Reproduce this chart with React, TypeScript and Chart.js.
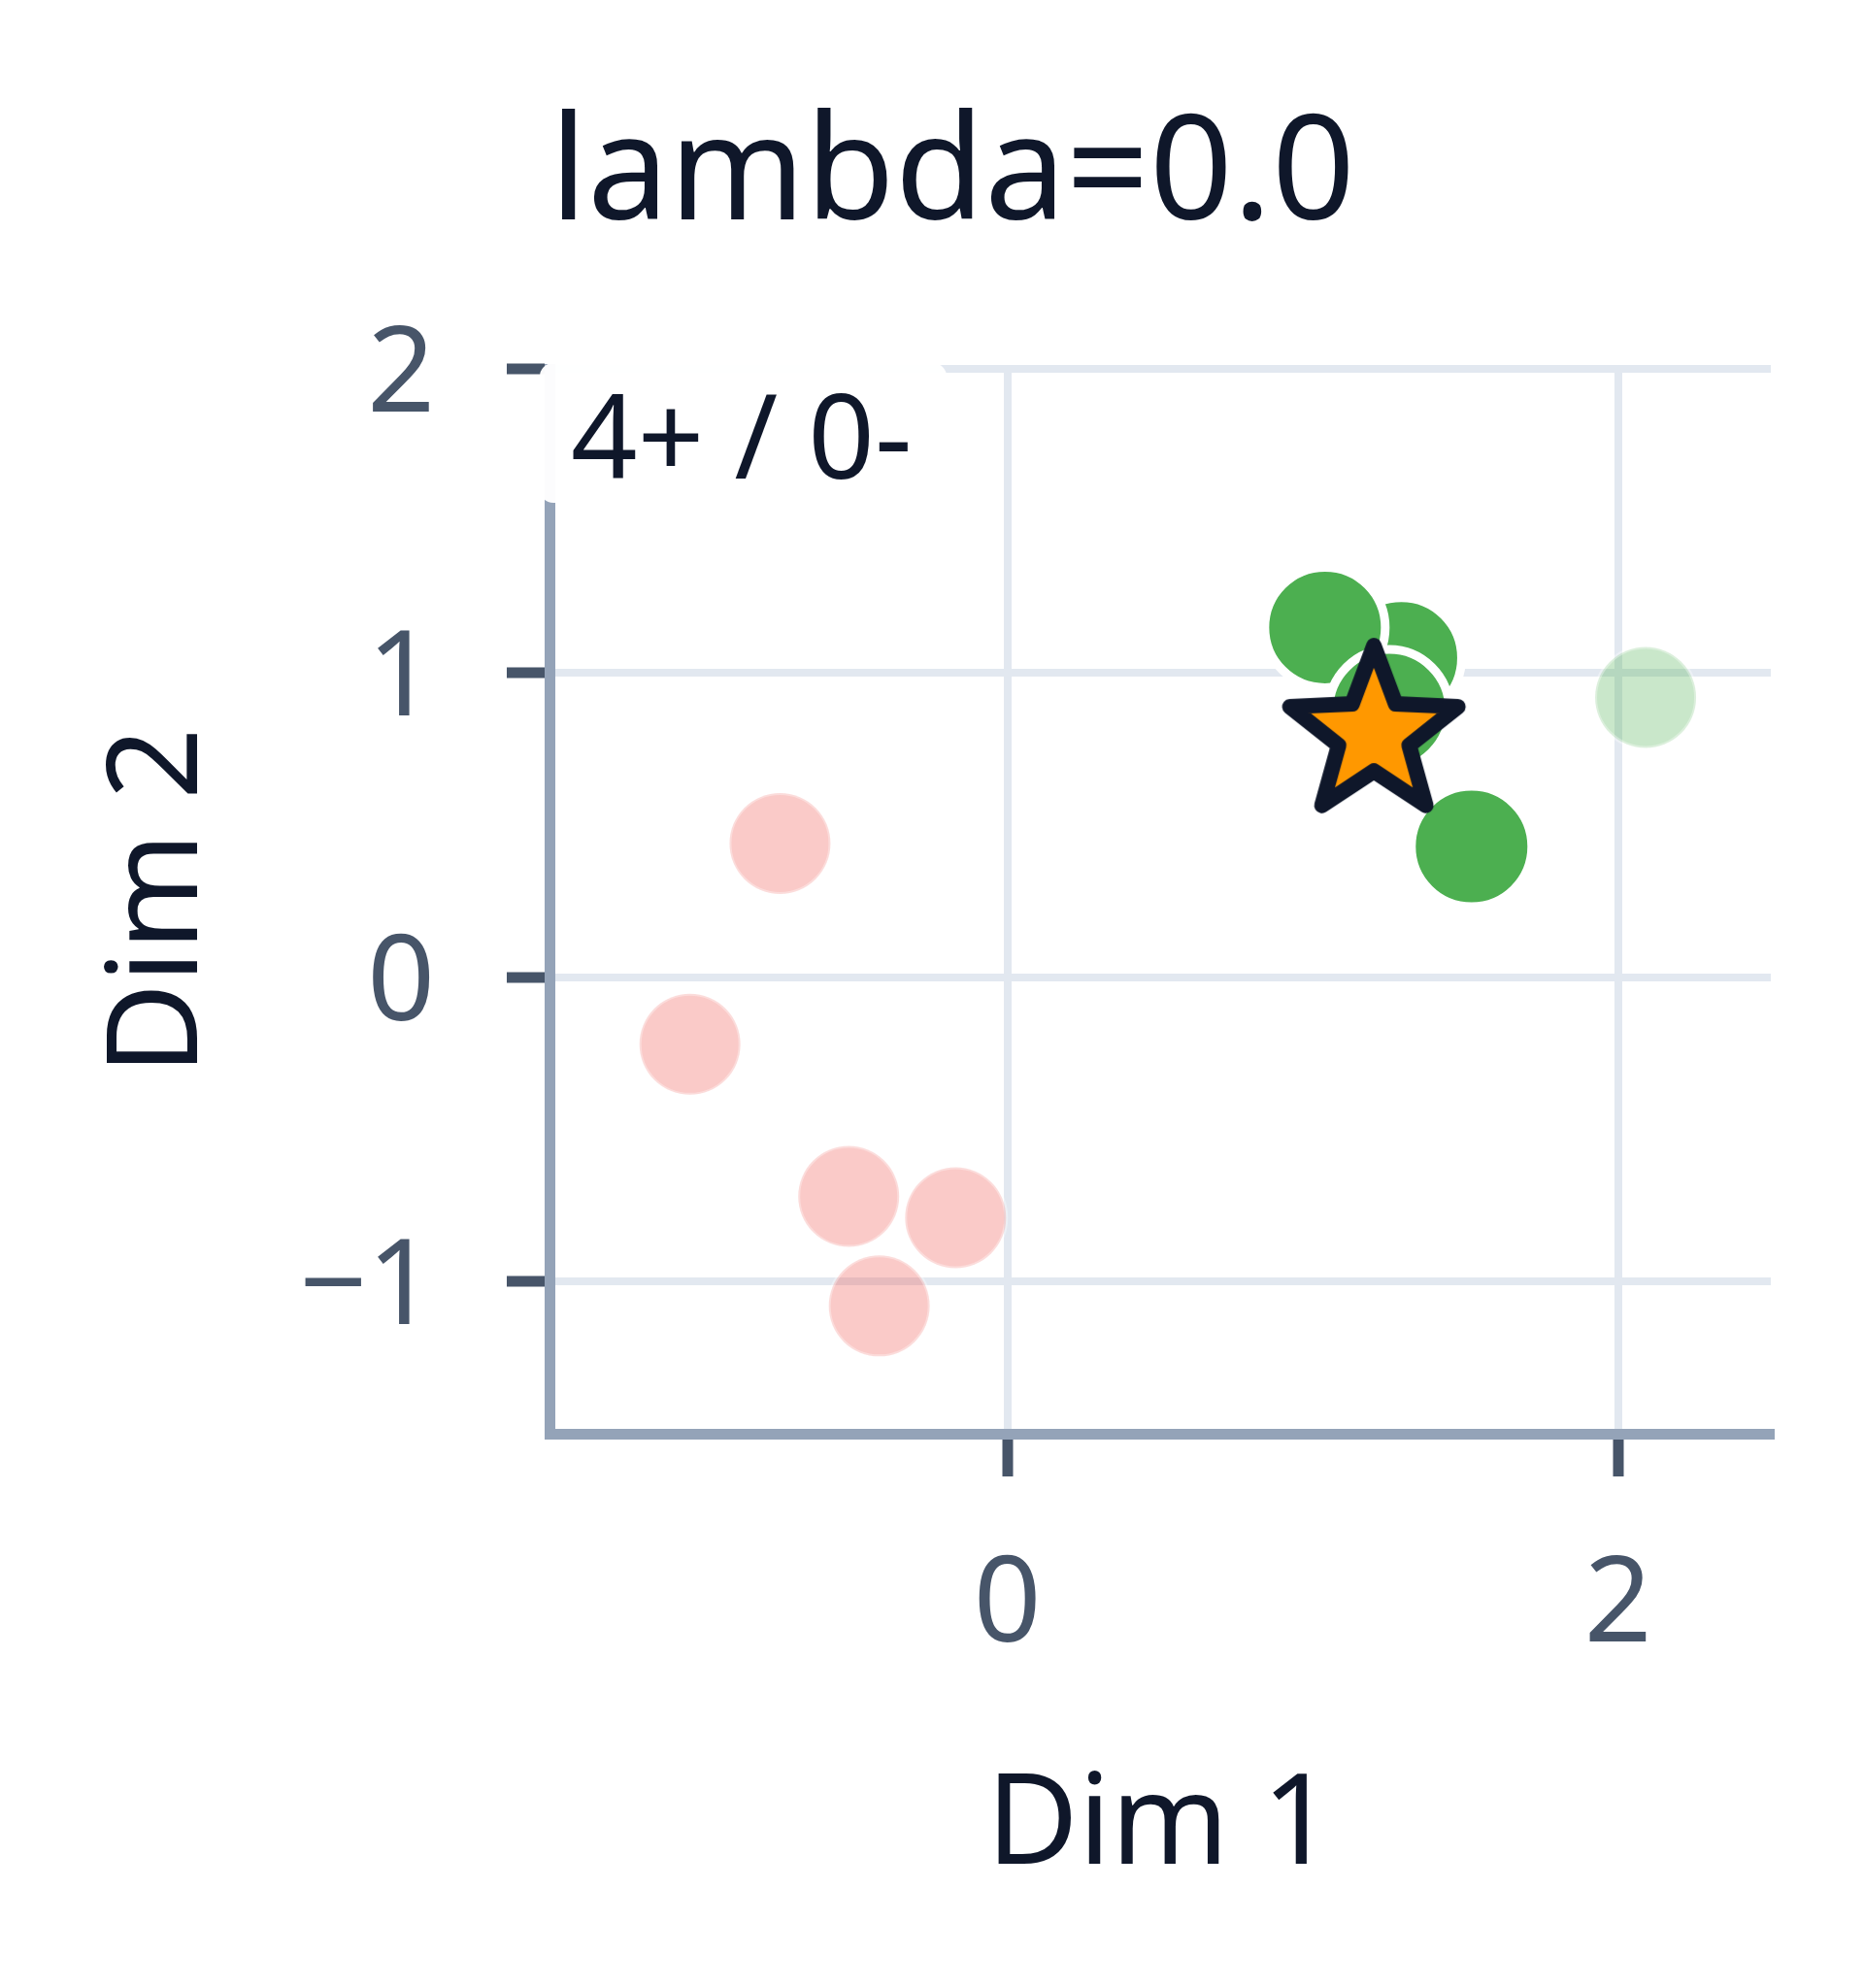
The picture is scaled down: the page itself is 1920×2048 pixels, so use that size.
import { useEffect, useRef } from "react";
import { Chart, registerables } from "chart.js";

Chart.register(...registerables);
Chart.defaults.font.family = '"Noto Sans", sans-serif';

// negatives (faded), positives (solid), faded positive, query star
const negX = [-0.745, -1.04, -0.52, -0.17, -0.42];
const negY = [0.44, -0.22, -0.72, -0.79, -1.08];
const posX = [1.29, 1.04, 1.25, 1.52];
const posY = [1.05, 1.15, 0.88, 0.43];
const posFadedX = [2.09];
const posFadedY = [0.92];
const queryX = [1.2];
const queryY = [0.8];

const xTicks = [0, 2];
const yTicks = [-1, 0, 1, 2];
const xRange = [-1.5, 2.5];
const yRange = [-1.5, 2];

const titleText = "lambda=0.0";
const countText = "4+ / 0-";
const xTitle = "Dim 1";
const yTitle = "Dim 2";

const INK = "#0f172a";
const TICK = "#475569";

const toPoints = (xs: number[], ys: number[]) => xs.map((x, i) => ({ x, y: ys[i] }));
const fmt = (v: number) => (v < 0 ? "\u2212" + Math.abs(v) : String(v));

function makeStar(R: number, inner: number, lw: number) {
  const size = Math.ceil(2 * (R + lw));
  const c = document.createElement("canvas");
  c.width = size;
  c.height = size;
  const ctx = c.getContext("2d")!;
  ctx.translate(size / 2, size / 2);
  ctx.beginPath();
  for (let i = 0; i < 10; i++) {
    const r = i % 2 === 0 ? R : R * inner;
    const a = -Math.PI / 2 + (i * Math.PI) / 5;
    ctx.lineTo(r * Math.cos(a), r * Math.sin(a));
  }
  ctx.closePath();
  ctx.fillStyle = "#ff9800";
  ctx.fill();
  ctx.lineJoin = "round";
  ctx.lineWidth = lw;
  ctx.strokeStyle = INK;
  ctx.stroke();
  return c;
}

const overlay = {
  id: "overlay",
  beforeDatasetsDraw(chart: any) {
    const { ctx, chartArea } = chart;
    ctx.save();
    // white label box over the top-left corner
    ctx.fillStyle = "rgba(255,255,255,0.97)";
    ctx.beginPath();
    ctx.roundRect(chartArea.left - 10, chartArea.top - 6, 419, 144, 14);
    ctx.fill();
    ctx.fillStyle = INK;
    ctx.font = '120px "Noto Sans"';
    ctx.textAlign = "left";
    ctx.textBaseline = "alphabetic";
    ctx.fillText(countText, chartArea.left + 22, chartArea.top + 113);
    ctx.restore();
  },
  afterDraw(chart: any) {
    const { ctx } = chart;
    ctx.save();
    ctx.fillStyle = INK;
    ctx.font = '150px "Noto Sans"';
    ctx.textAlign = "center";
    ctx.textBaseline = "alphabetic";
    ctx.fillText(titleText, 981, 226);
    ctx.restore();
  },
};

export default function App() {
  const canvasRef = useRef<HTMLCanvasElement>(null);
  const chartRef = useRef<Chart | null>(null);

  useEffect(() => {
    if (!canvasRef.current) return;
    document.body.style.margin = "0";

    const star = makeStar(91, 0.42, 16);

    chartRef.current?.destroy();
    chartRef.current = new Chart(canvasRef.current, {
      type: "scatter",
      data: {
        datasets: [
          {
            label: "query",
            data: toPoints(queryX, queryY),
            pointStyle: star as any,
            pointRadius: 45,
          },
          {
            label: "positive",
            data: toPoints(posX, posY),
            backgroundColor: "#4caf50",
            borderColor: "#ffffff",
            borderWidth: 9,
            pointRadius: 62,
          },
          {
            label: "positive (faded)",
            data: toPoints(posFadedX, posFadedY),
            backgroundColor: "rgba(76,175,80,0.3)",
            borderColor: "rgba(255,255,255,0.35)",
            borderWidth: 4,
            pointRadius: 52,
          },
          {
            label: "negative (faded)",
            data: toPoints(negX, negY),
            backgroundColor: "rgba(240,80,72,0.3)",
            borderColor: "rgba(255,255,255,0.35)",
            borderWidth: 4,
            pointRadius: 52,
          },
        ],
      },
      options: {
        animation: false,
        responsive: true,
        maintainAspectRatio: false,
        devicePixelRatio: 1,
        layout: { padding: { top: 380, right: 96, left: 0, bottom: 0 } },
        plugins: {
          legend: { display: false },
          tooltip: { enabled: false },
          title: { display: false },
        },
        scales: {
          x: {
            type: "linear",
            min: xRange[0],
            max: xRange[1],
            afterBuildTicks: (s: any) => {
              s.ticks = xTicks.map((v) => ({ value: v }));
            },
            afterFit: (s: any) => {
              s.height = 571;
            },
            ticks: {
              font: { size: 122 },
              color: TICK,
              padding: 62,
              maxRotation: 0,
              autoSkip: false,
              callback: (v: any) => fmt(Number(v)),
            },
            grid: {
              color: "#e2e8f0",
              lineWidth: 8,
              tickLength: 44,
              tickColor: TICK,
              tickWidth: 11,
            },
            border: { color: "#94a3b8", width: 11 },
            title: {
              display: true,
              text: xTitle,
              color: INK,
              font: { size: 130 },
              padding: { top: 0, bottom: 87 },
            },
          },
          y: {
            type: "linear",
            min: yRange[0],
            max: yRange[1],
            afterBuildTicks: (s: any) => {
              s.ticks = yTicks.map((v) => ({ value: v }));
            },
            afterFit: (s: any) => {
              s.width = 566;
            },
            ticks: {
              font: { size: 122 },
              color: TICK,
              padding: 74,
              labelOffset: 9,
              autoSkip: false,
              callback: (v: any) => fmt(Number(v)),
            },
            grid: {
              color: "#e2e8f0",
              lineWidth: 8,
              tickLength: 44,
              tickColor: TICK,
              tickWidth: 11,
            },
            border: { color: "#94a3b8", width: 11 },
            title: {
              display: true,
              text: yTitle,
              color: INK,
              font: { size: 130 },
              padding: { top: 88, bottom: 0 },
            },
          },
        },
      },
      plugins: [overlay],
    });

    return () => {
      chartRef.current?.destroy();
      chartRef.current = null;
    };
  }, []);

  return (
    <div style={{ position: "relative", width: 1920, height: 2048, background: "#ffffff" }}>
      <canvas ref={canvasRef} role="img" aria-label="Scatter of Dim 1 vs Dim 2, lambda=0.0" />
    </div>
  );
}
